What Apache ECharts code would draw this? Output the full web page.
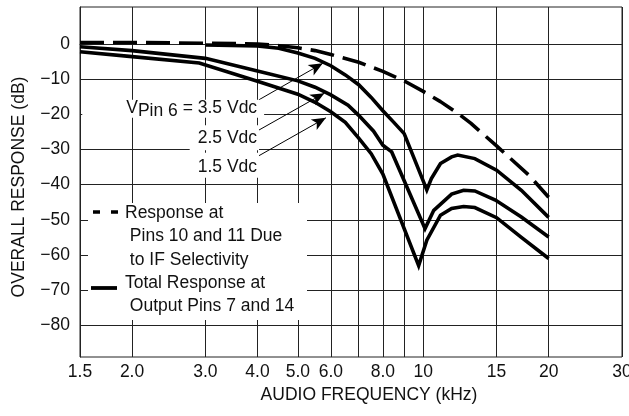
<!DOCTYPE html>
<html>
<head>
<meta charset="utf-8">
<script src="https://cdn.jsdelivr.net/npm/echarts@6/dist/echarts.min.js"></script>
<style>
html,body{margin:0;padding:0;background:#fff;}
#chart{width:629px;height:416px;}
</style>
</head>
<body>
<div id="chart"></div>
<script>
// ---------- axis ticks ----------
const xGridValues = [1.5, 2, 3, 4, 5, 6, 7, 8, 9, 10, 15, 20, 30];
const xLabelValues = [1.5, 2, 3, 4, 5, 6, 8, 10, 15, 20, 30];
const xLabelTexts = ['1.5', '2.0', '3.0', '4.0', '5.0', '6.0', '8.0', '10', '15', '20', '30'];
const yTickValues = [0, -10, -20, -30, -40, -50, -60, -70, -80];
const yLabelTexts = ['0', '\u221210', '\u221220', '\u221230', '\u221240', '\u221250', '\u221260', '\u221270', '\u221280'];

// ---------- series data (kHz, dB) ----------
const ifFreq = [1.5, 2, 3, 4, 4.5, 5, 5.5, 6, 7, 8, 9, 10, 11, 12, 13, 15, 18, 20];
const ifDb   = [0.4, 0.4, 0.2, 0, -0.5, -1.1, -1.9, -3.0, -5.2, -7.8, -10.5, -13.5, -16.4, -19.4, -22.5, -29, -37.5, -43.6];

const v35Freq = [3, 4, 4.5, 5, 5.5, 6, 6.5, 7, 7.5, 8, 8.5, 9, 10.2, 10.46, 11, 11.7, 12.1, 13.3, 15, 17.2, 20];
const v35Db   = [-0.3, -0.6, -1.2, -2.6, -4.1, -6.2, -8.8, -11.6, -15.2, -19, -22.3, -25.5, -41.5, -38.3, -34, -32.1, -31.6, -32.6, -35.9, -41.6, -49.3];

const v25Freq = [1.5, 2, 3, 4, 5, 5.5, 6, 6.6, 7, 7.6, 8, 8.4, 10.1, 10.6, 11.7, 12.5, 13.3, 14.9, 17.2, 20];
const v25Db   = [-0.8, -1.9, -4.1, -7.7, -10.5, -12.3, -14.5, -17.4, -20.3, -24.8, -28.8, -30.7, -52.5, -47.3, -42.7, -41.6, -41.8, -44.4, -49.2, -54.9];

const v15Freq = [1.5, 2, 2.9, 4, 5, 5.5, 6, 6.5, 7, 7.5, 8, 9.75, 10.2, 11, 11.7, 12.5, 13.3, 15, 17.2, 20];
const v15Db   = [-2.2, -3.6, -5.4, -10.6, -14.3, -16.6, -19.3, -22.3, -26.8, -31.2, -37, -63, -55.8, -48.7, -46.8, -46.2, -46.5, -49.4, -55, -61];

// ---------- annotations ----------
const noteTexts = ['V_{Pin 6} = 3.5 Vdc', '2.5 Vdc', '1.5 Vdc'];
const noteFreq = [4.15, 4.035, 4.035];
const noteDb = [-18.4, -26.7, -34.5];
const arrowFromFreq = [4.03, 4.03, 4.03];
const arrowFromDb = [-15.9, -24.5, -31.8];
const arrowToFreq = [5.74, 5.79, 5.84];
const arrowToDb = [-5.5, -14.0, -21.0];

// ---------- legend text ----------
const legendDashedLines = ['Response at', ' Pins 10 and 11 Due', ' to IF Selectivity'];
const legendSolidLines = ['Total Response at', ' Output Pins 7 and 14'];

const FONT = '"Liberation Sans", Arial, Helvetica, sans-serif';
const FS = 17.5;
const INK = '#111';
const GRID = '#222';

function zip(a, b) { return a.map((v, i) => [v, b[i]]); }
function findLabel(vals, texts, v) {
  for (let i = 0; i < vals.length; i++) {
    if (Math.abs(vals[i] - v) <= Math.abs(vals[i]) * 1e-4 + 1e-9) return texts[i];
  }
  return '';
}
function toRich(s) {
  const m = s.match(/^(.*?)_\{(.*?)\}(.*)$/);
  if (!m) return '{a|' + s + '}';
  return '{a|' + m[1] + '}{b|' + m[2] + '}{a|' + m[3] + '}';
}

const notePaddings = [[0, 7, 0, 44], [4, 2, 3, 8], [5, 2, 2, 8]];

const chart = echarts.init(document.getElementById('chart'), null, {renderer: 'canvas'});

const solidStyle = {color: '#000', width: 3.6, type: 'solid', cap: 'butt', join: 'miter'};

const option = {
  animation: false,
  backgroundColor: '#fff',
  textStyle: {fontFamily: FONT},
  grid: {left: 80, right: 7, top: 7, bottom: 59, show: true, borderColor: GRID, borderWidth: 1,
         containLabel: false, outerBoundsMode: 'none'},
  xAxis: {
    type: 'log', logBase: 10, min: 1.5, max: 30,
    name: 'AUDIO FREQUENCY (kHz)', nameLocation: 'middle', nameGap: 28,
    nameTextStyle: {fontSize: FS, color: INK, fontFamily: FONT, padding: [0, 0, 0, 36]},
    axisLine: {show: true, lineStyle: {color: GRID, width: 1}},
    axisTick: {show: false, customValues: xGridValues},
    axisLabel: {customValues: xLabelValues, fontSize: FS, color: INK, fontFamily: FONT, margin: 6,
                formatter: v => findLabel(xLabelValues, xLabelTexts, v)},
    splitLine: {show: true, lineStyle: {color: GRID, width: 1}},
    minorTick: {show: false}, minorSplitLine: {show: false}
  },
  yAxis: {
    type: 'value', min: -89, max: 10.5,
    name: 'OVERALL RESPONSE (dB)', nameLocation: 'middle', nameGap: 52, nameRotate: 90,
    nameTextStyle: {fontSize: FS, color: INK, fontFamily: FONT, padding: [0, 10, 0, 0]},
    axisLine: {show: true, lineStyle: {color: GRID, width: 1}},
    axisTick: {show: false, customValues: yTickValues},
    axisLabel: {customValues: yTickValues, fontSize: FS, color: INK, fontFamily: FONT, margin: 10,
                formatter: v => findLabel(yTickValues, yLabelTexts, v)},
    splitLine: {show: true, lineStyle: {color: GRID, width: 1}}
  },
  series: [
    {name: 'Response at Pins 10 and 11 Due to IF Selectivity', type: 'line', data: zip(ifFreq, ifDb),
     showSymbol: false, symbol: 'none', smooth: false, z: 3,
     lineStyle: {color: '#000', width: 3.6, type: [24, 9], cap: 'butt'}},
    {name: '3.5 Vdc', type: 'line', data: zip(v35Freq, v35Db), showSymbol: false, symbol: 'none', z: 3, lineStyle: solidStyle},
    {name: '2.5 Vdc', type: 'line', data: zip(v25Freq, v25Db), showSymbol: false, symbol: 'none', z: 3, lineStyle: solidStyle},
    {name: '1.5 Vdc', type: 'line', data: zip(v15Freq, v15Db), showSymbol: false, symbol: 'none', z: 3, lineStyle: solidStyle},
    {
      name: 'notes', type: 'scatter', symbolSize: 0, silent: true, z: 5,
      itemStyle: {color: '#000', opacity: 1},
      emphasis: {disabled: true},
      data: noteTexts.map((t, i) => ({
        value: [noteFreq[i], noteDb[i]],
        label: {
          show: true, position: 'left', distance: 0,
          formatter: toRich(t),
          color: INK, fontSize: FS, fontFamily: FONT, opacity: 1,
          textBorderWidth: 0,
          backgroundColor: '#fff',
          padding: notePaddings[i],
          rich: {
            a: {fontSize: FS, fontFamily: FONT, color: INK, lineHeight: 18, verticalAlign: 'top'},
            b: {fontSize: FS, fontFamily: FONT, color: INK, lineHeight: 18, padding: [5, 0, 0, 0], verticalAlign: 'middle'}
          }
        }
      })),
      markLine: {
        silent: true, animation: false,
        symbol: ['none', 'arrow'], symbolSize: [9, 14],
        label: {show: false},
        emphasis: {disabled: true},
        lineStyle: {color: '#000', width: 1, type: 'solid', opacity: 1},
        data: arrowFromFreq.map((f, i) => [
          {coord: [f, arrowFromDb[i]]},
          {coord: [arrowToFreq[i], arrowToDb[i]]}
        ])
      }
    }
  ],
  graphic: [
    {type: 'rect', z: 50, shape: {x: 88, y: 203, width: 219, height: 117}, style: {fill: '#fff'}},
    {type: 'line', z: 51, shape: {x1: 93, y1: 212, x2: 118, y2: 212},
     style: {stroke: '#000', lineWidth: 3.6, lineDash: [7, 11]}},
    {type: 'line', z: 51, shape: {x1: 91, y1: 288, x2: 117, y2: 288},
     style: {stroke: '#000', lineWidth: 3.8}},
  ].concat(
    legendDashedLines.map((t, i) => ({type: 'text', z: 52, x: 125, y: 213 + i * 23.5,
      style: {text: t, fontSize: FS, fontFamily: FONT, fill: INK, verticalAlign: 'middle', align: 'left'}})),
    legendSolidLines.map((t, i) => ({type: 'text', z: 52, x: 125, y: 283 + i * 23.5,
      style: {text: t, fontSize: FS, fontFamily: FONT, fill: INK, verticalAlign: 'middle', align: 'left'}}))
  )
};

chart.setOption(option);
</script>
</body>
</html>
